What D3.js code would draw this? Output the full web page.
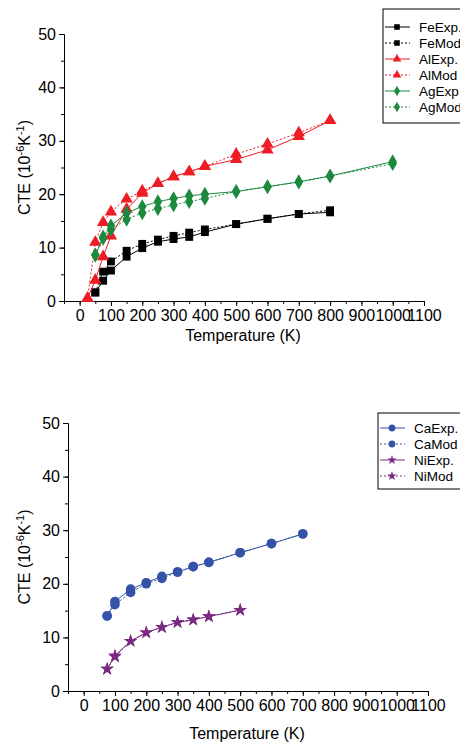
<!DOCTYPE html>
<html>
<head>
<meta charset="utf-8">
<script src="https://cdn.jsdelivr.net/npm/d3@7"></script>
<style>
  body { margin: 0; background: #fff; }
  svg { display: block; font-family: "Liberation Sans", Arial, sans-serif; }
  .domain { stroke: #000; }
</style>
</head>
<body>
<svg id="chart" width="460" height="746"></svg>
<script>
// tick labels
const xTicks = [0,100,200,300,400,500,600,700,800,900,1000,1100]
const yTicks = [0,10,20,30,40,50]

// top panel: Fe, Al, Ag
const feT = [50,75,100,150,200,250,300,350,400,500,600,700,800]
const feExp = [1.6,3.8,5.7,8.3,9.9,11.1,11.6,12.0,12.9,14.4,15.4,16.3,16.6]
const feMod = [1.6,5.5,7.4,9.4,10.7,11.5,12.2,12.8,13.4,14.4,15.4,16.3,17.0]
const alT = [25,50,75,100,150,200,250,300,350,400,500,600,700,800]
const alExp = [0.5,3.9,8.3,12.2,17.2,20.2,22.0,23.3,24.2,25.2,26.5,28.3,30.8,33.8]
const alMod = [0.5,11.0,14.7,16.7,19.1,20.6,22.0,23.3,24.2,25.2,27.5,29.4,31.5,33.8]
const agT = [50,75,100,150,200,250,300,350,400,500,600,700,800,1000]
const agExp = [8.6,12.0,14.1,16.5,17.7,18.6,19.2,19.7,20.0,20.5,21.4,22.3,23.4,26.1]
const agMod = [8.6,11.7,13.4,15.3,16.5,17.3,18.0,18.6,19.2,20.5,21.4,22.3,23.4,25.7]

// bottom panel: Ca, Ni
const caT = [75,100,150,200,250,300,350,400,500,600,700]
const caExp = [14.0,16.7,19.0,20.2,21.4,22.2,23.2,24.0,25.8,27.5,29.3]
const caMod = [14.0,16.1,18.4,20.0,21.0,22.2,23.2,24.0,25.8,27.5,29.3]
const niT = [75,100,150,200,250,300,350,400,500]
const niExp = [4.1,6.6,9.3,10.9,11.9,12.8,13.3,13.9,15.1]
const niMod = [4.1,6.4,9.3,10.9,11.9,12.8,13.3,13.9,15.1]

const svg = d3.select('#chart')

const panels = [
  {
    x0: 64, x1: 424, y0: 301, y1: 34, titleY: 341,
    legend: {x: 383, y: 9, h: 114, rowY: 27, step: 16},
    series: [
      {name: 'FeExp.', t: feT, v: feExp, color: '#000000', sym: d3.symbolSquare, size: 62, dash: null},
      {name: 'FeMod', t: feT, v: feMod, color: '#000000', sym: d3.symbolSquare, size: 62, dash: '2,2'},
      {name: 'AlExp.', t: alT, v: alExp, color: '#ee1c25', sym: d3.symbolTriangle, size: 66, dash: null},
      {name: 'AlMod', t: alT, v: alMod, color: '#ee1c25', sym: d3.symbolTriangle, size: 66, dash: '2,2'},
      {name: 'AgExp', t: agT, v: agExp, color: '#1c8a3e', sym: d3.symbolDiamond, size: 62, dash: null},
      {name: 'AgMod', t: agT, v: agMod, color: '#1c8a3e', sym: d3.symbolDiamond, size: 62, dash: '2,2'}
    ]
  },
  {
    x0: 68, x1: 428, y0: 691, y1: 423, titleY: 739,
    legend: {x: 378, y: 413, h: 76, rowY: 428, step: 16},
    series: [
      {name: 'CaExp.', t: caT, v: caExp, color: '#3452a8', sym: d3.symbolCircle, size: 72, dash: null},
      {name: 'CaMod', t: caT, v: caMod, color: '#3452a8', sym: d3.symbolCircle, size: 72, dash: '2,2'},
      {name: 'NiExp.', t: niT, v: niExp, color: '#7a2a80', sym: d3.symbolStar, size: 56, dash: null},
      {name: 'NiMod', t: niT, v: niMod, color: '#7a2a80', sym: d3.symbolStar, size: 56, dash: '2,2'}
    ]
  }
]

panels.forEach(p => {
  const x = d3.scaleLinear().domain([-50, 1100]).range([p.x0, p.x1])
  const y = d3.scaleLinear().domain([0, 50]).range([p.y0, p.y1])
  const g = svg.append('g')

  // minor ticks
  g.append('g')
    .attr('transform', `translate(0, ${p.y0})`)
    .call(d3.axisBottom(x).tickValues(d3.range(-50, 1101, 50)).tickSize(3).tickSizeOuter(0).tickFormat(''))
  g.append('g')
    .attr('transform', `translate(${p.x0}, 0)`)
    .call(d3.axisLeft(y).tickValues(d3.range(0, 51, 5)).tickSize(3).tickSizeOuter(0).tickFormat(''))

  // major ticks
  const xa = g.append('g')
    .attr('transform', `translate(0, ${p.y0})`)
    .call(d3.axisBottom(x).tickValues(xTicks).tickSize(5).tickSizeOuter(0).tickFormat(d3.format('d')))
  xa.selectAll('text')
    .attr('font-size', 16).attr('y', 9).attr('dy', '0.71em')
    .attr('font-family', 'Liberation Sans, Arial').attr('fill', '#000')
  const ya = g.append('g')
    .attr('transform', `translate(${p.x0}, 0)`)
    .call(d3.axisLeft(y).tickValues(yTicks).tickSize(5).tickSizeOuter(0))
  ya.selectAll('text')
    .attr('font-size', 16).attr('x', -8)
    .attr('font-family', 'Liberation Sans, Arial').attr('fill', '#000')

  // axis titles
  g.append('text')
    .attr('x', (p.x0 + p.x1) / 2 - 1)
    .attr('y', p.titleY)
    .attr('text-anchor', 'middle')
    .attr('font-size', 16)
    .text('Temperature (K)')

  const yt = g.append('text')
    .attr('transform', `translate(30, ${(p.y0 + p.y1) / 2}) rotate(-90)`)
    .attr('text-anchor', 'middle')
    .attr('font-size', 16)
  yt.append('tspan').text('CTE (10')
  yt.append('tspan').attr('font-size', 11).attr('dy', -6).text('-6')
  yt.append('tspan').attr('dy', 6).text('K')
  yt.append('tspan').attr('font-size', 11).attr('dy', -6).text('-1')
  yt.append('tspan').attr('dy', 6).text(')')

  // lines and markers
  const line = d3.line().x(d => x(d[0])).y(d => y(d[1]))
  p.series.forEach(s => {
    const pts = s.t.map((t, i) => [t, s.v[i]])
    g.append('path')
      .datum(pts)
      .attr('d', line)
      .attr('fill', 'none')
      .attr('stroke', s.color)
      .attr('stroke-width', 1)
      .attr('stroke-dasharray', s.dash)
    g.append('g')
      .selectAll('path')
      .data(pts)
      .enter()
      .append('path')
        .attr('transform', d => `translate(${x(d[0])}, ${y(d[1])})`)
        .attr('d', d3.symbol().type(s.sym).size(s.size))
        .attr('fill', s.color)
  })

  // legend
  const L = p.legend
  const lg = g.append('g')
  lg.append('rect')
    .attr('x', L.x).attr('y', L.y)
    .attr('width', 100).attr('height', L.h)
    .attr('fill', '#fff').attr('stroke', '#000').attr('stroke-width', 1)
  p.series.forEach((s, i) => {
    const ry = L.rowY + i * L.step
    lg.append('line')
      .attr('x1', L.x + 2).attr('x2', L.x + 27)
      .attr('y1', ry).attr('y2', ry)
      .attr('stroke', s.color).attr('stroke-width', 1)
      .attr('stroke-dasharray', s.dash)
    lg.append('path')
      .attr('transform', `translate(${L.x + 14}, ${ry})`)
      .attr('d', d3.symbol().type(s.sym).size(s.size * 0.5))
      .attr('fill', s.color)
    lg.append('text')
      .attr('x', L.x + 36).attr('y', ry + 5)
      .attr('font-size', 13.5)
      .text(s.name)
  })
})
</script>
</body>
</html>
